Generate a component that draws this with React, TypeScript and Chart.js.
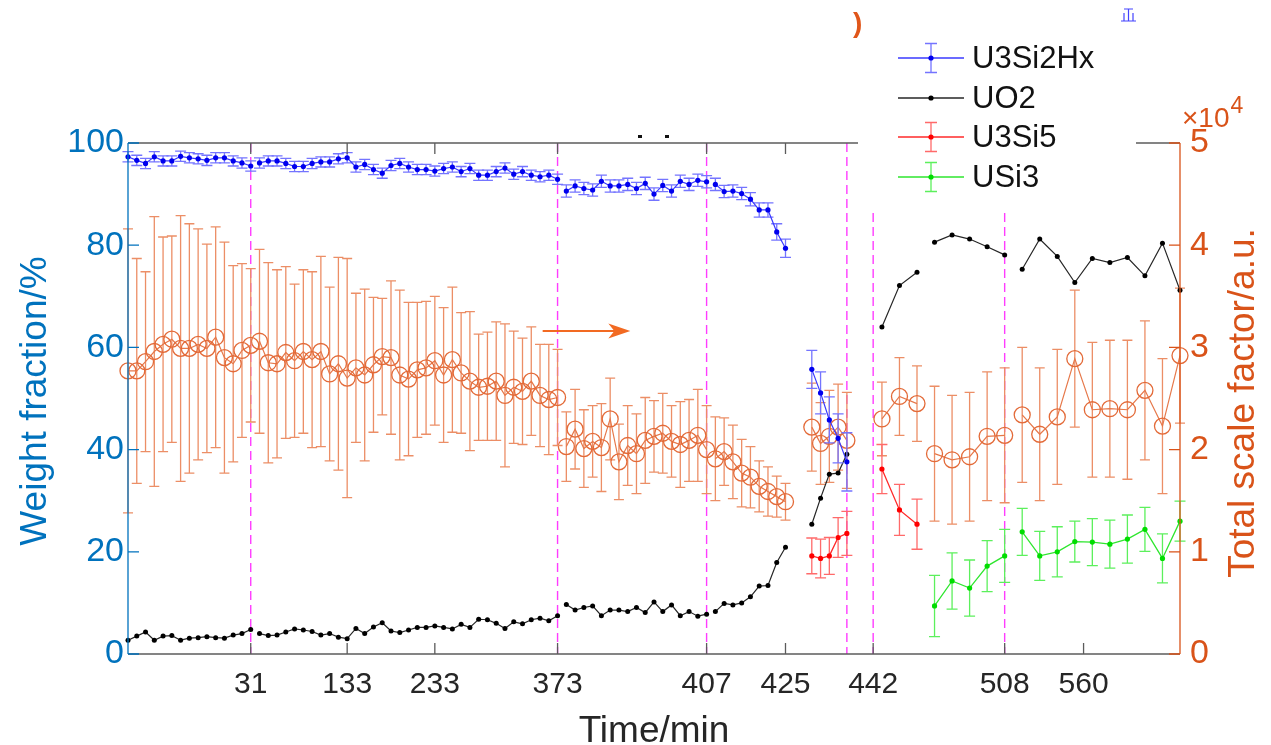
import React, { useEffect, useRef } from 'react';
import { Chart, registerables } from 'chart.js';

Chart.register(...registerables);

const FONT = '"Liberation Sans", Arial, Helvetica, sans-serif';

// Scan index along the compressed time axis and the times printed under it
const xTickPositions = [14, 25, 35, 49, 66, 75, 85, 100, 109];
const xTickLabels = ['31', '133', '233', '373', '407', '425', '442', '508', '560'];
// Dashed markers where the sample condition changes
const stageBoundaries = [14, 49, 66, 82, 85, 100];

// Stage 1: scans 0..75, split into separately measured runs
const stage1Runs: [number, number][] = [[0, 14], [15, 49], [50, 66], [67, 75]];

const u3si2hxStage1 = [
  97.3, 96.6, 96.0, 97.3, 96.5, 96.5, 97.4, 97.1, 96.9, 96.6, 97.1, 97.1, 96.5, 96.1, 95.5,
  96.1, 96.5, 96.5, 96.0, 95.4, 95.4, 96.0, 96.3, 96.3, 96.9, 97.1, 95.3, 95.8, 94.8, 94.1,
  95.6, 96.0, 95.3, 94.8, 94.8, 94.5, 95.0, 95.3, 94.4, 95.0, 93.7, 93.7, 94.4, 95.1, 93.9,
  94.4, 93.7, 93.4, 93.7, 92.9,
  90.6, 91.6, 91.1, 90.8, 92.5, 91.6, 91.6, 91.9, 91.1, 92.1, 90.0, 91.7, 90.6, 92.5, 91.9,
  92.7, 92.4,
  91.9, 90.5, 90.6, 90.1, 89.0, 86.9, 86.9, 82.6, 79.4,
];
const u3si2hxStage1Err = [
  1.0, 1.0, 1.0, 1.0, 1.0, 1.0, 1.0, 1.0, 1.0, 1.0, 1.0, 1.0, 1.0, 1.0, 1.0,
  1.0, 1.0, 1.0, 1.0, 1.0, 1.0, 1.0, 1.0, 1.0, 1.0, 1.0, 1.0, 1.0, 1.0, 1.0,
  1.0, 1.0, 1.0, 1.0, 1.0, 1.0, 1.0, 1.0, 1.0, 1.0, 1.0, 1.0, 1.0, 1.0, 1.0,
  1.0, 1.0, 1.0, 1.0, 1.0,
  1.2, 1.2, 1.2, 1.2, 1.2, 1.2, 1.2, 1.2, 1.2, 1.2, 1.2, 1.2, 1.2, 1.2, 1.2,
  1.2, 1.2,
  1.2, 1.2, 1.2, 1.2, 1.3, 1.4, 1.4, 1.6, 1.8,
];
const uo2Stage1 = [
  2.7, 3.5, 4.3, 2.7, 3.5, 3.6, 2.7, 3.1, 3.2, 3.4, 3.2, 3.1, 3.7, 4.0, 4.8,
  4.0, 3.6, 3.7, 4.3, 4.9, 4.7, 4.4, 3.7, 4.0, 3.3, 3.0, 5.0, 4.0, 5.3, 6.1,
  4.5, 4.2, 4.7, 5.2, 5.2, 5.5, 5.2, 4.9, 5.8, 5.2, 6.8, 6.7, 6.0, 5.0, 6.3,
  5.9, 6.7, 7.0, 6.5, 7.5,
  9.7, 8.6, 9.1, 9.4, 7.5, 8.6, 8.6, 8.3, 9.1, 8.1, 10.2, 8.3, 9.6, 7.5, 8.3,
  7.4, 7.8,
  8.3, 9.9, 9.6, 10.0, 11.2, 13.3, 13.4, 17.9, 20.9,
];
// Total scale factor, in units of 1e4
const scaleStage1 = [
  2.77, 2.77, 2.86, 2.96, 3.03, 3.08, 2.99, 2.99, 3.03, 2.99, 3.10, 2.90, 2.84, 2.97, 3.02,
  3.06, 2.85, 2.84, 2.95, 2.87, 2.96, 2.88, 2.96, 2.74, 2.84, 2.70, 2.80, 2.73, 2.83, 2.91,
  2.90, 2.73, 2.69, 2.78, 2.80, 2.87, 2.73, 2.88, 2.75, 2.67, 2.61, 2.62, 2.67, 2.53, 2.61,
  2.57, 2.67, 2.53, 2.49, 2.51,
  2.03, 2.20, 2.01, 2.08, 2.02, 2.30, 1.88, 2.04, 1.96, 2.09, 2.13, 2.16, 2.08, 2.05, 2.09,
  2.14, 2.00,
  1.91, 1.98, 1.88, 1.77, 1.73, 1.64, 1.59, 1.54, 1.49,
];
const scaleStage1Err = [
  1.39, 1.10, 0.88, 1.32, 1.05, 1.01, 1.30, 1.22, 1.13, 1.02, 1.08, 1.13, 0.96, 0.85, 0.75,
  0.90, 0.98, 0.92, 0.84, 0.75, 0.80, 0.86, 0.93, 0.85, 1.04, 1.17, 0.73, 0.84, 0.66, 0.57,
  0.75, 0.83, 0.75, 0.66, 0.65, 0.63, 0.66, 0.71, 0.59, 0.68, 0.52, 0.53, 0.58, 0.70, 0.55,
  0.52, 0.53, 0.50, 0.54, 0.47,
  0.34, 0.39, 0.38, 0.35, 0.43, 0.40, 0.37, 0.39, 0.39, 0.42, 0.35, 0.39, 0.35, 0.42, 0.40,
  0.45, 0.43,
  0.41, 0.33, 0.36, 0.33, 0.30, 0.25, 0.24, 0.20, 0.18,
];

// Stage 2
const stage2Index = [78, 79, 80, 81, 82];
const u3si2hxStage2 = [55.7, 51.1, 45.8, 42.2, 37.6];
const u3si2hxStage2Err = [3.7, 4.1, 4.5, 4.8, 5.7];
const uo2Stage2 = [25.4, 30.5, 35.2, 35.4, 39.1];
const u3si5Stage2 = [19.2, 18.7, 19.2, 22.8, 23.6];
const u3si5Stage2Err = [3.5, 3.8, 3.6, 3.9, 4.3];
const scaleStage2 = [2.22, 2.06, 2.13, 2.22, 2.09];
const scaleStage2Err = [0.43, 0.40, 0.45, 0.42, 0.47];

// Stage 3
const stage3aIndex = [86, 88, 90];
const stage3bIndex = [92, 94, 96, 98, 100];
const stage3cIndex = [102, 104, 106, 108, 110, 112, 114, 116, 118, 120];
const uo2Stage3a = [64.0, 72.1, 74.7];
const uo2Stage3b = [80.6, 82.0, 81.2, 79.7, 78.1];
const uo2Stage3c = [75.3, 81.2, 77.8, 72.7, 77.4, 76.6, 77.6, 74.0, 80.4, 71.2];
const u3si5Stage3a = [36.2, 28.2, 25.4];
const u3si5Stage3aErr = [4.8, 5.0, 4.9];
const usi3Stage3b = [9.4, 14.3, 12.9, 17.2, 19.2];
const usi3Stage3bErr = [6.0, 5.5, 5.5, 5.0, 5.2];
const usi3Stage3c = [23.9, 19.2, 20.0, 22.0, 21.9, 21.5, 22.5, 24.4, 18.7, 26.0];
const usi3Stage3cErr = [4.6, 4.8, 4.9, 4.0, 4.6, 4.7, 4.7, 4.3, 4.8, 3.9];
const scaleStage3a = [2.30, 2.52, 2.45];
const scaleStage3aErr = [0.36, 0.38, 0.37];
const scaleStage3b = [1.96, 1.90, 1.93, 2.13, 2.14];
const scaleStage3bErr = [0.66, 0.63, 0.63, 0.63, 0.66];
const scaleStage3c = [2.34, 2.15, 2.32, 2.89, 2.39, 2.40, 2.39, 2.58, 2.23, 2.92];
const scaleStage3cErr = [0.66, 0.65, 0.66, 0.67, 0.66, 0.67, 0.68, 0.68, 0.66, 0.66];

// Annotation arrow pointing to the right-hand axis (x: scan index, y: right axis)
const arrowStart = { x: 47.3, y: 3.16 };
const arrowEnd = { x: 57.3, y: 3.16 };

const legendNames = ['U3Si2Hx', 'UO2', 'U3Si5', 'USi3'];

interface SeriesStyle {
  line: string;
  point: string;
  err: string;
  radius: number;
  hollow?: boolean;
  axis: 'y' | 'y1';
  cap: number;
  width: number;
}

const STYLES: Record<string, SeriesStyle> = {
  u3si2hx: { line: '#3a3aff', point: '#0000ee', err: '#7474ff', radius: 2.6, axis: 'y', cap: 5.5, width: 1.2 },
  uo2: { line: '#262626', point: '#000000', err: '#000', radius: 2.5, axis: 'y', cap: 0, width: 1.2 },
  u3si5: { line: '#ff2a2a', point: '#ff0000', err: '#ff6a6a', radius: 2.6, axis: 'y', cap: 5.5, width: 1.3 },
  usi3: { line: '#2ee62e', point: '#00dd00', err: '#5cf05c', radius: 2.6, axis: 'y', cap: 5.5, width: 1.3 },
  scale: { line: '#e6784a', point: '#e36a38', err: '#ec8e66', radius: 8, hollow: true, axis: 'y1', cap: 5, width: 1.2 },
};

type Run = { xs: number[]; ys: number[]; errs?: number[] };

function splitStage1(values: number[], errs?: number[]): Run[] {
  return stage1Runs.map(([a, b]) => {
    const xs: number[] = [];
    for (let i = a; i <= b; i++) xs.push(i);
    return { xs, ys: values.slice(a, b + 1), errs: errs ? errs.slice(a, b + 1) : undefined };
  });
}

function makeDatasets(runs: Run[], st: SeriesStyle) {
  return runs.map((r) => ({
    type: 'line',
    data: r.xs.map((x, i) => ({ x, y: r.ys[i] })),
    yAxisID: st.axis,
    borderColor: st.line,
    borderWidth: st.width,
    pointRadius: st.radius,
    pointHoverRadius: st.radius,
    pointBorderColor: st.point,
    pointBackgroundColor: st.hollow ? 'rgba(0,0,0,0)' : st.point,
    pointBorderWidth: st.hollow ? 1.3 : 0,
    fill: false,
    tension: 0,
    clip: false,
    errors: r.errs,
    errorColor: st.err,
    errorCap: st.cap,
  }));
}

function buildDatasets() {
  const blue = makeDatasets(
    [...splitStage1(u3si2hxStage1, u3si2hxStage1Err), { xs: stage2Index, ys: u3si2hxStage2, errs: u3si2hxStage2Err }],
    STYLES.u3si2hx,
  );
  const black = makeDatasets(
    [
      ...splitStage1(uo2Stage1),
      { xs: stage2Index, ys: uo2Stage2 },
      { xs: stage3aIndex, ys: uo2Stage3a },
      { xs: stage3bIndex, ys: uo2Stage3b },
      { xs: stage3cIndex, ys: uo2Stage3c },
    ],
    STYLES.uo2,
  );
  const red = makeDatasets(
    [
      { xs: stage2Index, ys: u3si5Stage2, errs: u3si5Stage2Err },
      { xs: stage3aIndex, ys: u3si5Stage3a, errs: u3si5Stage3aErr },
    ],
    STYLES.u3si5,
  );
  const green = makeDatasets(
    [
      { xs: stage3bIndex, ys: usi3Stage3b, errs: usi3Stage3bErr },
      { xs: stage3cIndex, ys: usi3Stage3c, errs: usi3Stage3cErr },
    ],
    STYLES.usi3,
  );
  const orange = makeDatasets(
    [
      ...splitStage1(scaleStage1, scaleStage1Err),
      { xs: stage2Index, ys: scaleStage2, errs: scaleStage2Err },
      { xs: stage3aIndex, ys: scaleStage3a, errs: scaleStage3aErr },
      { xs: stage3bIndex, ys: scaleStage3b, errs: scaleStage3bErr },
      { xs: stage3cIndex, ys: scaleStage3c, errs: scaleStage3cErr },
    ],
    STYLES.scale,
  );
  // earlier datasets are painted last (on top)
  return [...blue, ...black, ...red, ...green, ...orange];
}

const errorBarPlugin = {
  id: 'errorBars',
  beforeDatasetDraw(chart: any, args: any) {
    const ds = chart.data.datasets[args.index];
    if (!ds.errors) return;
    const scale = chart.scales[ds.yAxisID];
    const ctx = chart.ctx;
    const cap = ds.errorCap;
    ctx.save();
    ctx.strokeStyle = ds.errorColor;
    ctx.lineWidth = 1.3;
    args.meta.data.forEach((pt: any, i: number) => {
      const v = ds.data[i].y;
      const e = ds.errors[i];
      const x = pt.x;
      const yt = scale.getPixelForValue(v + e);
      const yb = scale.getPixelForValue(v - e);
      ctx.beginPath();
      ctx.moveTo(x, yt);
      ctx.lineTo(x, yb);
      ctx.moveTo(x - cap, yt);
      ctx.lineTo(x + cap, yt);
      ctx.moveTo(x - cap, yb);
      ctx.lineTo(x + cap, yb);
      ctx.stroke();
    });
    ctx.restore();
  },
};

const stageLinePlugin = {
  id: 'stageLines',
  beforeDatasetsDraw(chart: any) {
    const { ctx, chartArea } = chart;
    const xs = chart.scales.x;
    ctx.save();
    ctx.strokeStyle = '#ff3cff';
    ctx.lineWidth = 1.4;
    ctx.setLineDash([9, 5]);
    stageBoundaries.forEach((b) => {
      const x = xs.getPixelForValue(b);
      ctx.beginPath();
      ctx.moveTo(x, chartArea.top);
      ctx.lineTo(x, chartArea.bottom);
      ctx.stroke();
    });
    ctx.restore();
  },
};

function drawLegendGlyph(ctx: CanvasRenderingContext2D, st: SeriesStyle, x0: number, x1: number, y: number, withBar: boolean) {
  const xm = (x0 + x1) / 2;
  ctx.strokeStyle = st.line;
  ctx.lineWidth = 1.3;
  ctx.beginPath();
  ctx.moveTo(x0, y);
  ctx.lineTo(x1, y);
  ctx.stroke();
  if (withBar) {
    ctx.strokeStyle = st.err;
    ctx.beginPath();
    ctx.moveTo(xm, y - 14.5);
    ctx.lineTo(xm, y + 14.5);
    ctx.moveTo(xm - 6, y - 14.5);
    ctx.lineTo(xm + 6, y - 14.5);
    ctx.moveTo(xm - 6, y + 14.5);
    ctx.lineTo(xm + 6, y + 14.5);
    ctx.stroke();
  }
  ctx.fillStyle = st.point;
  ctx.beginPath();
  ctx.arc(xm, y, 2.6, 0, Math.PI * 2);
  ctx.fill();
}

const framePlugin = {
  id: 'frame',
  afterDraw(chart: any) {
    const { ctx, chartArea } = chart;
    const { left, right, top, bottom } = chartArea;
    const xs = chart.scales.x;
    const yl = chart.scales.y;
    const yr = chart.scales.y1;
    const tick = 11;
    ctx.save();

    // annotation arrow toward the right axis
    const ax0 = xs.getPixelForValue(arrowStart.x);
    const ax1 = xs.getPixelForValue(arrowEnd.x);
    const ay = yr.getPixelForValue(arrowStart.y);
    ctx.strokeStyle = '#f26a22';
    ctx.fillStyle = '#f26a22';
    ctx.lineWidth = 2;
    ctx.beginPath();
    ctx.moveTo(ax0, ay);
    ctx.lineTo(ax1 - 10, ay);
    ctx.stroke();
    ctx.beginPath();
    ctx.moveTo(ax1, ay);
    ctx.lineTo(ax1 - 22, ay - 7.5);
    ctx.lineTo(ax1 - 16, ay);
    ctx.lineTo(ax1 - 22, ay + 7.5);
    ctx.closePath();
    ctx.fill();

    // box
    ctx.lineWidth = 1.3;
    ctx.strokeStyle = '#5c5c5c';
    ctx.beginPath();
    ctx.moveTo(left, bottom);
    ctx.lineTo(right, bottom);
    ctx.moveTo(left, top);
    ctx.lineTo(right, top);
    xTickPositions.forEach((p) => {
      const x = xs.getPixelForValue(p);
      ctx.moveTo(x, bottom);
      ctx.lineTo(x, bottom - tick);
      ctx.moveTo(x, top);
      ctx.lineTo(x, top + tick);
    });
    ctx.stroke();

    ctx.strokeStyle = '#0072BD';
    ctx.beginPath();
    ctx.moveTo(left, top);
    ctx.lineTo(left, bottom);
    yl.ticks.forEach((t: any) => {
      const y = yl.getPixelForValue(t.value);
      ctx.moveTo(left, y);
      ctx.lineTo(left + tick, y);
    });
    ctx.stroke();

    ctx.strokeStyle = '#D95319';
    ctx.beginPath();
    ctx.moveTo(right, top);
    ctx.lineTo(right, bottom);
    yr.ticks.forEach((t: any) => {
      const y = yr.getPixelForValue(t.value);
      ctx.moveTo(right, y);
      ctx.lineTo(right - tick, y);
    });
    ctx.stroke();

    // legend
    ctx.fillStyle = '#ffffff';
    ctx.fillRect(858, 0, 278, 212);
    const rows = [58, 98, 137, 177];
    const legendStyles = [STYLES.u3si2hx, STYLES.uo2, STYLES.u3si5, STYLES.usi3];
    legendStyles.forEach((st, i) => {
      drawLegendGlyph(ctx, st, 898, 964, rows[i], i !== 1);
    });
    ctx.fillStyle = '#111111';
    ctx.font = `31px ${FONT}`;
    ctx.textAlign = 'left';
    ctx.textBaseline = 'middle';
    legendNames.forEach((n, i) => ctx.fillText(n, 972, rows[i] + 1));

    // exponent of the right axis
    ctx.fillStyle = '#D95319';
    ctx.textBaseline = 'alphabetic';
    ctx.font = `28px ${FONT}`;
    const base = '\u00d710';
    ctx.fillText(base, 1182, 127);
    const baseWidth = ctx.measureText(base).width;
    ctx.font = `23px ${FONT}`;
    ctx.fillText('4', 1182 + baseWidth + 1, 113);

    // axis titles
    ctx.font = `37px ${FONT}`;
    ctx.textAlign = 'center';
    ctx.fillStyle = '#262626';
    ctx.fillText('Time/min', 654, 742);

    ctx.save();
    ctx.translate(46, 401);
    ctx.rotate(-Math.PI / 2);
    ctx.fillStyle = '#0072BD';
    ctx.fillText('Weight fraction/%', 0, 0);
    ctx.restore();

    ctx.save();
    ctx.translate(1254, 403);
    ctx.rotate(-Math.PI / 2);
    ctx.fillStyle = '#D95319';
    ctx.fillText('Total scale factor/a.u.', 0, 0);
    ctx.restore();

    // remnants of the panel labels above the axes
    ctx.fillStyle = '#e0561a';
    ctx.font = `bold 28px ${FONT}`;
    ctx.textAlign = 'left';
    ctx.fillText(')', 853, 32);
    ctx.fillStyle = '#111';
    ctx.fillRect(638, 135, 4, 3);
    ctx.fillRect(665, 135, 4, 3);
    ctx.strokeStyle = '#4444ff';
    ctx.lineWidth = 1.2;
    ctx.beginPath();
    ctx.moveTo(1121, 21);
    ctx.lineTo(1136, 21);
    ctx.moveTo(1124, 9);
    ctx.lineTo(1133, 9);
    ctx.moveTo(1128.5, 9);
    ctx.lineTo(1128.5, 21);
    ctx.moveTo(1124, 13);
    ctx.lineTo(1124, 21);
    ctx.moveTo(1133, 13);
    ctx.lineTo(1133, 21);
    ctx.stroke();

    ctx.restore();
  },
};

export default function App() {
  const canvasRef = useRef<HTMLCanvasElement | null>(null);

  useEffect(() => {
    const canvas = canvasRef.current;
    if (!canvas) return;
    const chart = new Chart(canvas, {
      type: 'line',
      data: { datasets: buildDatasets() as any },
      options: {
        responsive: false,
        animation: false,
        events: [],
        layout: { padding: { top: 143, left: 0, right: 0, bottom: 0 } },
        plugins: { legend: { display: false }, tooltip: { enabled: false } },
        scales: {
          x: {
            type: 'linear',
            min: 0,
            max: 120,
            grid: { display: false, drawTicks: false },
            border: { display: false },
            afterBuildTicks: (axis: any) => {
              axis.ticks = xTickPositions.map((v) => ({ value: v }));
            },
            afterFit: (axis: any) => {
              axis.height = 91;
            },
            ticks: {
              autoSkip: false,
              maxRotation: 0,
              padding: 13,
              color: '#262626',
              font: { family: FONT, size: 30 },
              callback: (_v: any, i: number) => xTickLabels[i],
            },
          },
          y: {
            type: 'linear',
            position: 'left',
            min: 0,
            max: 100,
            grid: { display: false, drawTicks: false },
            border: { display: false },
            afterFit: (axis: any) => {
              axis.width = 128;
            },
            ticks: { stepSize: 20, padding: 4, color: '#0072BD', font: { family: FONT, size: 34 } },
          },
          y1: {
            type: 'linear',
            position: 'right',
            min: 0,
            max: 5,
            grid: { display: false, drawTicks: false },
            border: { display: false },
            afterFit: (axis: any) => {
              axis.width = 91;
            },
            ticks: { stepSize: 1, padding: 10, color: '#D95319', font: { family: FONT, size: 34 } },
          },
        },
      } as any,
      plugins: [stageLinePlugin, errorBarPlugin, framePlugin],
    });
    return () => chart.destroy();
  }, []);

  return (
    <div style={{ position: 'fixed', left: 0, top: 0, width: 1271, height: 745, background: '#fff' }}>
      <canvas ref={canvasRef} width={1271} height={745} style={{ display: 'block' }} />
    </div>
  );
}
